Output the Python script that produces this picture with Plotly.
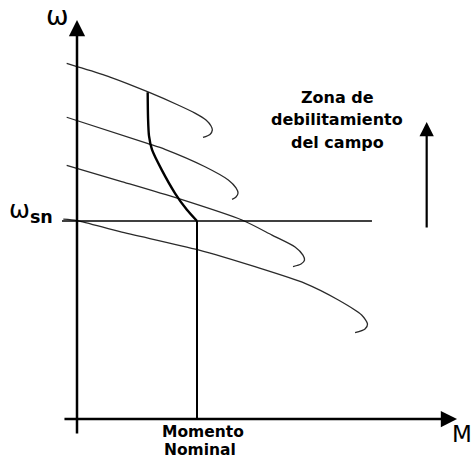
import plotly.graph_objects as go

# Torque-speed curves (M in per-unit of nominal torque, omega in per-unit of omega_sn)
c1_M = [-0.086, 0.0, 0.275, 0.592, 0.842, 0.983, 1.075, 1.117, 1.128, 1.108, 1.050]
c1_w = [1.796, 1.780, 1.727, 1.652, 1.586, 1.545, 1.510, 1.480, 1.460, 1.437, 1.422]

c2_M = [-0.086, 0.586, 0.733, 1.067, 1.261, 1.325, 1.342, 1.325, 1.292]
c2_w = [1.524, 1.392, 1.362, 1.274, 1.207, 1.167, 1.141, 1.121, 1.109]

c3_M = [-0.086, 0.358, 0.842, 1.375, 1.625, 1.817, 1.883, 1.896, 1.867, 1.800]
c3_w = [1.281, 1.202, 1.114, 1.005, 0.929, 0.869, 0.828, 0.803, 0.783, 0.770]

c4_M = [-0.114, 0.0, 0.358, 1.011, 1.483, 1.900, 2.178, 2.372, 2.421, 2.400, 2.317]
c4_w = [1.009, 1.002, 0.946, 0.854, 0.769, 0.685, 0.601, 0.525, 0.480, 0.455, 0.436]

# Nominal-torque boundary (thick curve)
nom_M = [0.589, 0.592, 0.600, 0.625, 0.706, 0.817, 0.914, 1.0]
nom_w = [1.650, 1.520, 1.430, 1.360, 1.258, 1.140, 1.058, 1.0]

M_nominal = 1.0
w_sn = 1.0
w_sn_line_M = [-0.125, 2.458]

curves = [(c1_M, c1_w), (c2_M, c2_w), (c3_M, c3_w), (c4_M, c4_w)]

fig = go.Figure()
for xm, yw in curves:
    fig.add_trace(go.Scatter(x=xm, y=yw, mode="lines",
                             line=dict(color="#2a2a2a", width=1.3, shape="spline", smoothing=0.7),
                             hoverinfo="skip", showlegend=False))

fig.add_trace(go.Scatter(x=nom_M, y=nom_w, mode="lines",
                         line=dict(color="black", width=2.4, shape="spline", smoothing=0.7),
                         hoverinfo="skip", showlegend=False))
# omega_sn horizontal line
fig.add_trace(go.Scatter(x=w_sn_line_M, y=[w_sn, w_sn], mode="lines",
                         line=dict(color="black", width=1.6),
                         hoverinfo="skip", showlegend=False))
# nominal torque vertical line
fig.add_trace(go.Scatter(x=[M_nominal, M_nominal], y=[0, w_sn], mode="lines",
                         line=dict(color="black", width=2),
                         hoverinfo="skip", showlegend=False))

def arrow(x0, y0, x1, y1, w=2.5):
    fig.add_annotation(x=x1, y=y1, ax=x0, ay=y0, xref="x", yref="y", axref="x", ayref="y",
                       text="", showarrow=True, arrowhead=2, arrowsize=1.3, arrowwidth=w,
                       arrowcolor="black", standoff=0, startstandoff=0)

# axes
arrow(0, -0.081, 0, 2.015)
arrow(-0.117, 0, 3.167, 0)
# field weakening arrow
arrow(2.914, 0.960, 2.914, 1.500, w=2.2)

font_b = "DejaVu Sans"
fig.add_annotation(x=-0.1625, y=2.040, xref="x", yref="y", text="ω", showarrow=False,
                   font=dict(family=font_b, size=27, color="black"))
fig.add_annotation(x=-0.183, y=1.052, xref="x", yref="y", text="ω<sub><b>sn</b></sub>",
                   showarrow=False, xanchor="right",
                   font=dict(family=font_b, size=25, color="black"))
for txt, yv in [("Zona de", 1.626), ("debilitamiento", 1.514), ("del campo", 1.399)]:
    fig.add_annotation(x=2.1667, y=yv, xref="x", yref="y", text="<b>" + txt + "</b>",
                       showarrow=False, font=dict(family=font_b, size=16, color="black"))
fig.add_annotation(x=1.046, y=-0.068, xref="x", yref="y", text="<b>Momento</b>", showarrow=False,
                   font=dict(family=font_b, size=15.5, color="black"))
fig.add_annotation(x=1.025, y=-0.157, xref="x", yref="y", text="<b>Nominal</b>", showarrow=False,
                   font=dict(family=font_b, size=15.5, color="black"))
fig.add_annotation(x=3.206, y=-0.075, xref="x", yref="y", text="M", showarrow=False,
                   font=dict(family=font_b, size=23, color="black"))

fig.update_layout(width=473, height=459, margin=dict(l=0, r=0, t=0, b=0),
                  paper_bgcolor="white", plot_bgcolor="white", showlegend=False,
                  xaxis=dict(range=[-0.6417, 3.3], visible=False, fixedrange=True),
                  yaxis=dict(range=[-0.2020, 2.1162], visible=False, fixedrange=True))

fig.write_html("out.html", config={"displayModeBar": False},
               post_script="document.body.style.margin='0px';document.body.style.overflow='hidden';")
